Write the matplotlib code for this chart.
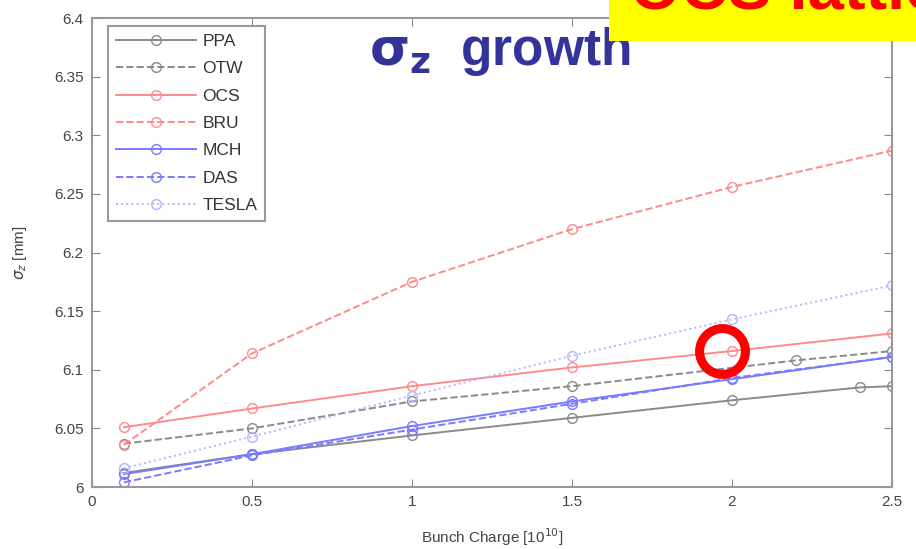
import matplotlib
matplotlib.use("Agg")
import matplotlib.pyplot as plt
from matplotlib.patches import Rectangle

plt.rcParams["font.family"] = ["Liberation Sans", "DejaVu Sans"]

# Dados
x_std = [0.1, 0.5, 1.0, 1.5, 2.0, 2.5]
x_ppa = [0.1, 0.5, 1.0, 1.5, 2.0, 2.4, 2.5]
x_otw = [0.1, 0.5, 1.0, 1.5, 2.2, 2.5]

ppa = [6.012, 6.028, 6.044, 6.059, 6.074, 6.085, 6.086]
otw = [6.037, 6.050, 6.073, 6.086, 6.108, 6.116]
ocs = [6.051, 6.067, 6.086, 6.102, 6.116, 6.131]
bru = [6.036, 6.114, 6.175, 6.220, 6.256, 6.287]
mch = [6.011, 6.028, 6.052, 6.073, 6.092, 6.111]
das = [6.004, 6.027, 6.049, 6.071, 6.093, 6.111]
tesla = [6.016, 6.043, 6.078, 6.112, 6.143, 6.172]

GRAY = "#8a8a8a"
RED = "#ff8a8a"
BLUE = "#7a7aff"
LBLUE = "#b4b4ff"

fig = plt.figure(figsize=(9.16, 5.49), dpi=100)
ax = fig.add_axes([0.1004, 0.1129, 0.8734, 0.8541])

series = [
    ("PPA", x_ppa, ppa, GRAY, "-"),
    ("OTW", x_otw, otw, GRAY, "--"),
    ("OCS", x_std, ocs, RED, "-"),
    ("BRU", x_std, bru, RED, "--"),
    ("MCH", x_std, mch, BLUE, "-"),
    ("DAS", x_std, das, BLUE, "--"),
    ("TESLA", x_std, tesla, LBLUE, ":"),
]
for nome, xs, ys, cor, ls in series:
    ax.plot(xs, ys, ls, color=cor, marker="o", markersize=7,
            markerfacecolor="none", markeredgecolor=cor, lw=1.4, label=nome)

ax.set_xlim(0, 2.5)
ax.set_ylim(6.0, 6.4)
ax.set_xticks([0, 0.5, 1, 1.5, 2, 2.5])
ax.set_xticklabels(["0", "0.5", "1", "1.5", "2", "2.5"])
ax.set_yticks([6.0, 6.05, 6.1, 6.15, 6.2, 6.25, 6.3, 6.35, 6.4])
ax.set_yticklabels(["6", "6.05", "6.1", "6.15", "6.2", "6.25", "6.3", "6.35", "6.4"])
ax.tick_params(direction="in", length=6, color=GRAY, labelsize=11, labelcolor="#444444",
               top=True, right=True, pad=6)
for s in ax.spines.values():
    s.set_color("#999999")
    s.set_linewidth(1.5)

ax.set_xlabel("Bunch Charge [10$^{10}$]", fontsize=11, color="#444444", labelpad=12)
ax.set_ylabel(r"$\sigma_z$ [mm]", fontsize=11, color="#444444", labelpad=18)

leg = ax.legend(loc="upper left", bbox_to_anchor=(0.02, 0.983), borderaxespad=0,
                fontsize=12.5, handlelength=4.6, handletextpad=0.4, borderpad=0.45,
                labelspacing=0.7, fancybox=False, framealpha=1)
leg.get_frame().set_edgecolor("#999999")
leg.get_frame().set_linewidth(1.5)
for t in leg.get_texts():
    t.set_color("#333333")

# título dentro do gráfico
fig.text(0.546, 0.882, r"$\mathbf{\sigma_z}$  growth", fontsize=37, color="#333399",
         fontweight="bold", ha="center", va="baseline")

# caixa amarela cortada no canto superior direito
fig.patches.append(Rectangle((0.665, 0.925), 0.4, 0.1, transform=fig.transFigure,
                             facecolor="#ffff00", edgecolor="none", zorder=5))
fig.text(0.688, 0.985, "OCS lattice", fontsize=47, color="#ff0000", fontweight="bold",
         ha="left", va="baseline", zorder=6)

# círculo vermelho de destaque
ax.plot([1.97], [6.116], "o", markersize=33, markerfacecolor="none",
        markeredgecolor="#ff0000", markeredgewidth=6.5, zorder=10)

fig.savefig("out.png", dpi=100)
